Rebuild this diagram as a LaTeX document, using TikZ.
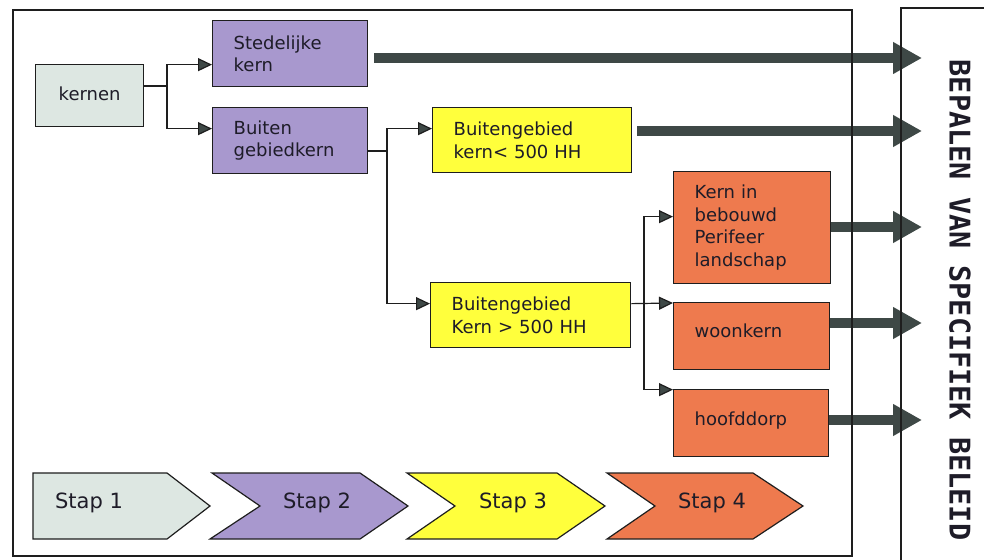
\documentclass[tikz,border=0pt]{standalone}
\usepackage{fontspec}
\setmainfont{DejaVu Sans}
\newfontfamily\monofam{DejaVu Sans Mono}
\usetikzlibrary{arrows.meta}
\definecolor{cgrey}{RGB}{221,231,226}
\definecolor{cpurple}{RGB}{168,152,206}
\definecolor{cyellow}{RGB}{255,255,60}
\definecolor{corange}{RGB}{238,122,78}
\definecolor{cdark}{RGB}{62,72,70}
\definecolor{cline}{RGB}{30,30,30}
\definecolor{ctext}{RGB}{30,28,40}
\tikzset{
  box/.style={draw=cline, line width=1.3pt, anchor=north west, inner xsep=21pt,
    inner ysep=0pt, align=left, text=ctext, font=\fontsize{18}{22.5}\selectfont},
  thin/.style={draw=cline, line width=1.2pt},
  arr/.style={thin, -{Triangle[length=14pt,width=13pt,fill=cdark]}},
  fat/.style={draw=cdark, line width=10pt, -{Triangle[length=29pt,width=30pt,fill=cdark]}},
  stapshape/.style={draw=cline, line width=1.2pt, line join=miter},
  staplabel/.style={text=ctext, font=\fontsize{21}{24}\selectfont},
  frame/.style={draw=cline, line width=1.3pt}
}
\begin{document}
\begin{tikzpicture}[x=1pt,y=-1pt]
\useasboundingbox (0,0) rectangle (984,559);
\fill[white] (0,0) rectangle (984,559);
% boxes
\node[box, fill=cgrey, minimum width=108pt, minimum height=62pt, text width=66pt, align=center] (kernen) at (35,64) {\raisebox{4pt}{kernen}};
\node[box, fill=cpurple, minimum width=155pt, minimum height=66pt, text width=113pt] (sted) at (212,20) {Stedelijke\\kern};
\node[box, fill=cpurple, minimum width=155pt, minimum height=66pt, text width=113pt] (buiten) at (212,107) {Buiten\\gebiedkern};
\node[box, fill=cyellow, minimum width=199pt, minimum height=65pt, text width=157pt] (bg1) at (432,107) {Buitengebied\\kern< 500 HH};
\node[box, fill=cyellow, minimum width=200pt, minimum height=65pt, text width=158pt] (bg2) at (430,282) {Buitengebied\\Kern > 500 HH};
\node[box, fill=corange, minimum width=157pt, minimum height=112pt, text width=115pt] (kern) at (673,171) {Kern in\\bebouwd\\Perifeer\\landschap};
\node[box, fill=corange, minimum width=156pt, minimum height=67pt, text width=114pt] (woon) at (673,302) {\raisebox{11pt}{woonkern}};
\node[box, fill=corange, minimum width=155pt, minimum height=67pt, text width=113pt] (hoofd) at (673,389) {\raisebox{9pt}{hoofddorp}};
% junctions
\coordinate (j1) at (167,86);
\coordinate (j2) at (387,151);
\coordinate (j3) at (644,303);
% thin connectors
\draw[thin] (kernen.east |- j1) -- (j1);
\draw[arr] (j1) |- ([yshift=-11pt]sted.west);
\draw[arr] (j1) |- ([yshift=12pt]buiten.west);
\draw[thin] (buiten.east |- j2) -- (j2);
\draw[arr] (j2) |- ([yshift=11.5pt]bg1.west);
\draw[arr] (j2) |- ([yshift=11.5pt]bg2.west);
\draw[arr] ([yshift=11.5pt]bg2.east) -- (woon.west |- j3);
\draw[arr] (j3) |- ([yshift=11pt]kern.west);
\draw[arr] (j3) |- ([yshift=33.5pt]hoofd.west);
% fat arrows
\coordinate (t1) at (922,58);
\coordinate (t2) at (922,131);
\coordinate (t3) at (922,227);
\coordinate (t4) at (922,323);
\coordinate (t5) at (922,420);
\draw[fat] ([xshift=6pt]sted.east |- t1) -- (t1);
\draw[fat] ([xshift=5pt]bg1.east |- t2) -- (t2);
\draw[fat] (kern.east |- t3) -- (t3);
\draw[fat] (woon.east |- t4) -- (t4);
\draw[fat] (hoofd.east |- t5) -- (t5);
% steps
\draw[stapshape, fill=cgrey] (33,473) -- (167,473) -- (210,506) -- (167,539) -- (33,539) -- cycle;
\draw[stapshape, fill=cpurple] (212,473) -- (360,473) -- (408,506) -- (360,539) -- (210,539) -- (260,506) -- cycle;
\draw[stapshape, fill=cyellow] (407,473) -- (557,473) -- (605,506) -- (557,539) -- (407,539) -- (455,506) -- cycle;
\draw[stapshape, fill=corange] (607,473) -- (753,473) -- (803,506) -- (753,539) -- (607,539) -- (655,506) -- cycle;
\node[staplabel] (s1) at (89,503) {Stap 1};
\node[staplabel] (s2) at (317,503) {Stap 2};
\node[staplabel] (s3) at (513,503) {Stap 3};
\node[staplabel] (s4) at (712,503) {Stap 4};
% frames
\draw[frame] (13,10) rectangle (852,556);
\draw[frame] (901,562) -- (901,8) -- (990,8);
\node[rotate=-90, text=ctext, font=\monofam\bfseries\fontsize{28.5}{30}\selectfont] (beleid) at (960,300) {BEPALEN VAN SPECIFIEK BELEID};
\end{tikzpicture}
\end{document}
